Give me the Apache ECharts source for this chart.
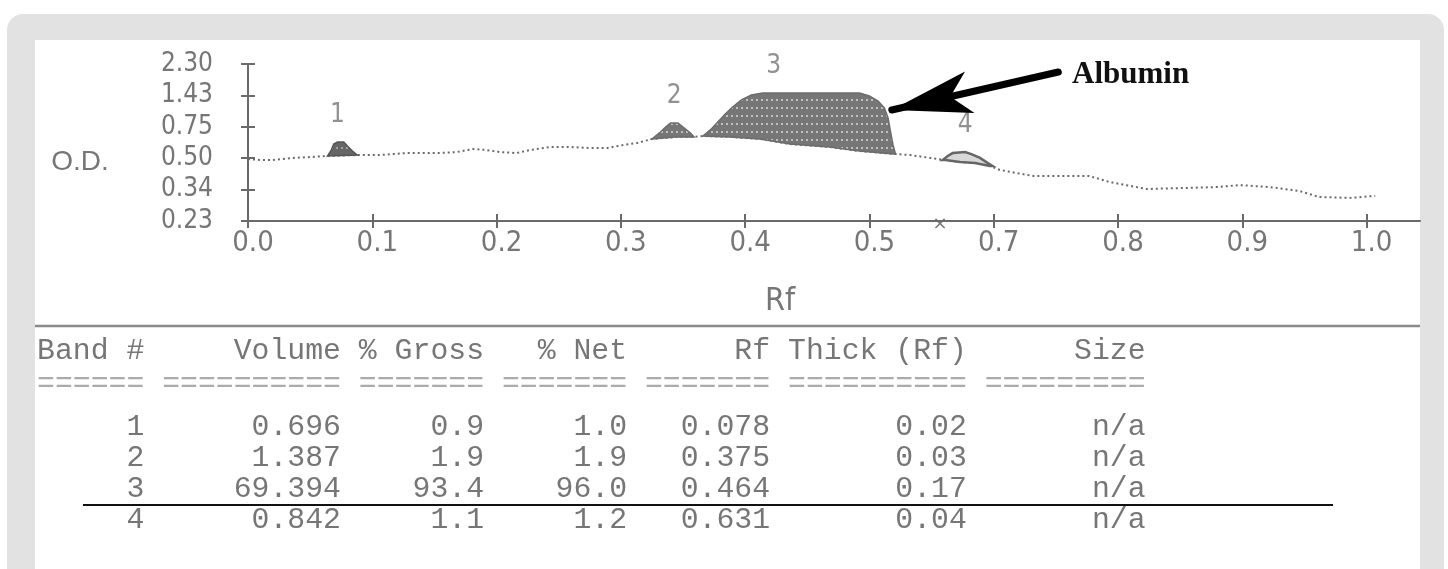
<!DOCTYPE html>
<html><head><meta charset="utf-8">
<script src="https://cdn.jsdelivr.net/npm/echarts@6/dist/echarts.min.js"></script>
<style>
html,body{margin:0;padding:0;background:#fff;width:1448px;height:569px;overflow:hidden}
#frame{position:absolute;left:7px;top:14px;width:1437px;height:620px;background:#e2e2e2;border-radius:16px}
#panel{position:absolute;left:35px;top:40px;width:1385px;height:600px;background:#fff}
#chart{position:absolute;left:0;top:0;width:1448px;height:569px}
</style></head><body>
<div id="frame"></div><div id="panel"></div><div id="chart"></div>
<script>
// ---- axis ticks ----
const yTickValues = [0.23, 0.34, 0.50, 0.75, 1.43, 2.30];
const yTickLabels = ['0.23', '0.34', '0.50', '0.75', '1.43', '2.30'];
const xTickLabels = ['0.0', '0.1', '0.2', '0.3', '0.4', '0.5', '0.7', '0.8', '0.9', '1.0'];

// ---- densitometry trace (Rf position, O.D.) ----
const traceRf = [0.000,0.010,0.020,0.036,0.052,0.064,0.088,0.106,0.128,0.152,0.168,0.181,0.192,0.203,0.216,0.227,0.243,0.259,0.275,0.289,0.302,0.313,0.325,0.344,0.357,0.366,0.388,0.412,0.436,0.468,0.492,0.521,0.533,0.549,0.561,0.573,0.585,0.597,0.605,0.632,0.659,0.677,0.693,0.723,0.752,0.780,0.798,0.822,0.846,0.862,0.887,0.907];
const traceOD = [0.496,0.491,0.491,0.502,0.510,0.518,0.525,0.525,0.541,0.541,0.549,0.573,0.565,0.549,0.541,0.565,0.589,0.589,0.581,0.581,0.605,0.621,0.653,0.669,0.669,0.677,0.669,0.653,0.613,0.589,0.557,0.533,0.525,0.502,0.491,0.481,0.476,0.460,0.440,0.409,0.409,0.409,0.379,0.343,0.348,0.353,0.363,0.353,0.335,0.314,0.311,0.318];

// ---- band (peak) outlines: upper edge ----
const peak1Rf = [0.064,0.067,0.069,0.072,0.077,0.080,0.084,0.088];
const peak1OD = [0.518,0.565,0.613,0.629,0.629,0.597,0.557,0.525];
const peak2Rf = [0.325,0.331,0.336,0.340,0.346,0.351,0.356,0.359];
const peak2OD = [0.653,0.701,0.748,0.832,0.832,0.740,0.701,0.669];
const peak3Rf = [0.366,0.372,0.378,0.384,0.389,0.397,0.405,0.414,0.492,0.500,0.507,0.512,0.515,0.517,0.519,0.521];
const peak3OD = [0.677,0.725,0.854,1.027,1.157,1.331,1.441,1.496,1.496,1.417,1.309,1.157,0.941,0.709,0.605,0.533];
const peak4Rf = [0.559,0.563,0.567,0.577,0.582,0.589,0.595,0.599];
const peak4OD = [0.491,0.518,0.541,0.549,0.533,0.502,0.476,0.460];

// ---- band number labels ----
const bandNo = ['1', '2', '3', '4'];
const bandLabelRf = [0.072, 0.343, 0.423, 0.577];
const bandLabelOD = [0.629, 0.832, 1.496, 0.549];

// ---- "Albumin" arrow (tail -> tip) ----
const arrowRf = [0.652, 0.518];
const arrowOD = [2.078, 1.114];

// ---- band table ----
const tableHeaders = ['Band #', 'Volume', '% Gross', '% Net', 'Rf', 'Thick (Rf)', 'Size'];
const volume = ['0.696', '1.387', '69.394', '0.842'];
const pctGross = ['0.9', '1.9', '93.4', '1.1'];
const pctNet = ['1.0', '1.9', '96.0', '1.2'];
const bandRf = ['0.078', '0.375', '0.464', '0.631'];
const thickRf = ['0.02', '0.03', '0.17', '0.04'];
const sizeVal = ['n/a', 'n/a', 'n/a', 'n/a'];
const colWidths = [6, 10, 7, 7, 7, 10, 9];

function odToPos(v) {
  for (let i = 0; i < yTickValues.length - 1; i++) {
    const a = yTickValues[i], b = yTickValues[i + 1];
    if (v <= b || i === yTickValues.length - 2) return i + (v - a) / (b - a);
  }
}
const peaks = [
  { rf: peak1Rf, od: peak1OD }, { rf: peak2Rf, od: peak2OD },
  { rf: peak3Rf, od: peak3OD }, { rf: peak4Rf, od: peak4OD }
];
const tracePts = traceRf.map((r, i) => [r, odToPos(traceOD[i])]);

// dotted texture like the printed bands
function makePattern(bg, dot) {
  const c = document.createElement('canvas');
  c.width = 5; c.height = 8;
  const g = c.getContext('2d');
  g.fillStyle = bg; g.fillRect(0, 0, 5, 8);
  g.fillStyle = dot; g.fillRect(1, 3, 2, 2);
  return { image: c, repeat: 'repeat' };
}
const patMain = makePattern('#767676', '#c0c0c0');
const patDark = makePattern('#666666', '#a0a0a0');

const tickVals = xTickLabels.map((_, i) => i / 10);
const FONT_AX = "'Liberation Sans Narrow','DejaVu Sans Condensed','Liberation Sans',sans-serif";
const GREY = '#767676';

const fmtRow = cells => cells.map((c, i) => String(c).padStart(colWidths[i])).join(' ');
const tableLines = [
  { text: fmtRow(tableHeaders), y: 351, fill: GREY },
  { text: colWidths.map(w => '='.repeat(w)).join(' '), y: 384, fill: '#ababab' }
];
bandNo.forEach((b, i) => tableLines.push({
  text: fmtRow([b, volume[i], pctGross[i], pctNet[i], bandRf[i], thickRf[i], sizeVal[i]]),
  y: 427 + i * 31, fill: GREY
}));

const chart = echarts.init(document.getElementById('chart'), null, { renderer: 'canvas' });
chart.setOption({
  animation: false,
  backgroundColor: 'transparent',
  grid: { left: 248, right: 28, top: 64, bottom: 348, containLabel: false },
  xAxis: [{
    type: 'value', min: 0, max: 0.943,
    axisLine: { lineStyle: { color: '#6a6a6a', width: 2 } },
    axisTick: { customValues: tickVals, length: 7, lineStyle: { color: '#6a6a6a', width: 2 } },
    axisLabel: { customValues: tickVals, formatter: v => xTickLabels[Math.round(v * 10)],
      fontSize: 29, color: GREY, fontFamily: FONT_AX, margin: 8, padding: [0, 0, 0, 10] },
    splitLine: { show: false }
  }, {
    type: 'value', min: 0, max: 0.943, position: 'bottom',
    axisLine: { show: false },
    axisTick: { inside: true, customValues: tickVals, length: 7, lineStyle: { color: '#6a6a6a', width: 2 } },
    axisLabel: { show: false }, splitLine: { show: false }
  }],
  yAxis: [{
    type: 'value', min: 0, max: 5, interval: 1,
    axisLine: { show: true, lineStyle: { color: '#6a6a6a', width: 2 } },
    axisTick: { show: true, length: 7, lineStyle: { color: '#6a6a6a', width: 2 } },
    axisLabel: { formatter: v => yTickLabels[v], fontSize: 26, color: GREY, fontFamily: FONT_AX, margin: 35 },
    splitLine: { show: false }
  }, {
    type: 'value', min: 0, max: 5, interval: 1, position: 'left',
    axisLine: { show: false },
    axisTick: { show: true, inside: true, length: 7, lineStyle: { color: '#6a6a6a', width: 2 } },
    axisLabel: { show: false }, splitLine: { show: false }
  }],
  series: [{
    type: 'line', name: 'trace', data: tracePts, showSymbol: false, smooth: false,
    lineStyle: { color: '#6a6a6a', width: 2, type: [2, 3] },
    z: 2,
    markLine: {
      silent: true, symbol: ['none', 'arrow'], symbolSize: [32, 80],
      lineStyle: { color: '#000', width: 7, type: 'solid', cap: 'round' },
      label: { show: false },
      data: [[{ coord: [arrowRf[0], odToPos(arrowOD[0])] }, { coord: [arrowRf[1], odToPos(arrowOD[1])] }]]
    }
  }, {
    type: 'custom', name: 'bands', coordinateSystem: 'cartesian2d',
    data: peaks.map((p, i) => [p.rf[0], odToPos(p.od[0]), i]),
    encode: { x: 0, y: 1 },
    z: 3,
    renderItem: (params, api) => {
      const p = peaks[params.dataIndex];
      const first = p.rf[0], last = p.rf[p.rf.length - 1];
      const top = p.rf.map((r, k) => api.coord([r, odToPos(p.od[k])]));
      const base = tracePts.filter(d => d[0] > first && d[0] < last).reverse().map(d => api.coord(d));
      const i = params.dataIndex;
      let style;
      if (i === 0) style = { fill: patDark, stroke: '#555', lineWidth: 1.5 };
      else if (i === 3) style = { fill: '#d8d8d8', stroke: '#666', lineWidth: 2.5 };
      else style = { fill: patMain, stroke: '#6c6c6c', lineWidth: 1.5 };
      return { type: 'polygon', shape: { points: top.concat(base) }, style };
    }
  }, {
    type: 'scatter', name: 'bandLabels', symbolSize: 1, itemStyle: { color: 'rgba(0,0,0,0)' },
    data: bandNo.map((b, i) => ({ name: b, value: [bandLabelRf[i], odToPos(bandLabelOD[i])] })),
    label: { show: true, position: 'top', distance: 13, formatter: p => p.name,
      fontSize: 26, color: GREY, fontFamily: FONT_AX },
    z: 4, silent: true
  }],
  graphic: [
    { type: 'text', x: 80, y: 162, style: { text: 'O.D.', font: "28px 'Liberation Sans', sans-serif", fill: GREY, align: 'center', verticalAlign: 'middle' } },
    { type: 'text', x: 780, y: 302, style: { text: 'Rf', font: "32px " + FONT_AX, fill: GREY, align: 'center', verticalAlign: 'middle' } },
    { type: 'text', x: 1072, y: 75, style: { text: 'Albumin', font: "bold 31px 'Liberation Serif', serif", fill: '#111', align: 'left', verticalAlign: 'middle' } },
    { type: 'text', x: 940, y: 224, style: { text: '×', font: "18px 'DejaVu Sans', sans-serif", fill: GREY, align: 'center', verticalAlign: 'middle' } },
    { type: 'line', shape: { x1: 35, y1: 326, x2: 1420, y2: 326 }, style: { stroke: '#8a8a8a', lineWidth: 2.5 } },
    { type: 'line', shape: { x1: 83, y1: 505, x2: 1333, y2: 505 }, style: { stroke: '#111', lineWidth: 2 } }
  ].concat(tableLines.map(l => ({
    type: 'text', x: 37, y: l.y,
    style: { text: l.text, font: "29.8px 'Liberation Mono', monospace", fill: l.fill, align: 'left', verticalAlign: 'middle' }
  })))
});
</script>
</body></html>
